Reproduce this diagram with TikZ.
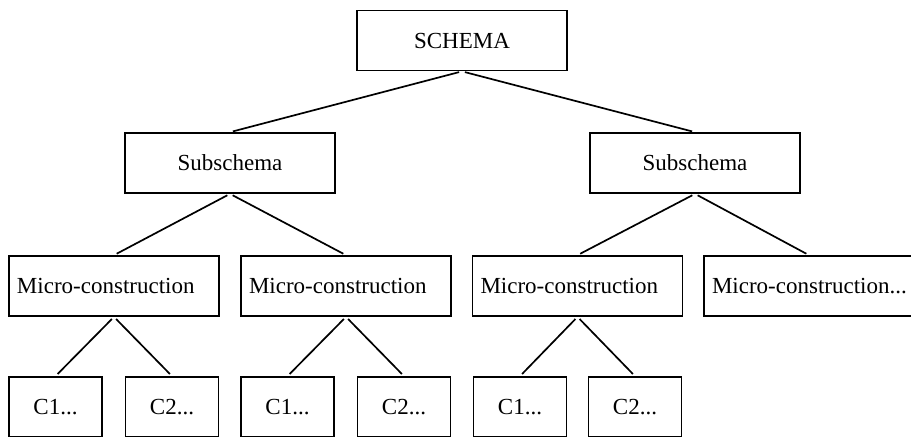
\documentclass[tikz,border=0pt]{standalone}
\usepackage{fontspec}
\setmainfont{Liberation Serif}
\begin{document}
\begin{tikzpicture}[x=0.5pt, y=-0.5pt, line width=0.85pt,
  box/.style={draw, rectangle, inner sep=0pt, minimum width=105pt, minimum height=30pt, font=\fontsize{11.5}{14}\selectfont},
  micro/.style={box, inner xsep=4pt, text width=97pt, align=left},
  leaf/.style={box, minimum width=46.5pt},
  link/.style={shorten >=1.5pt, shorten <=1.5pt}]
\useasboundingbox (0,0) rectangle (911,436);
\node (schema) at (462,40.5) [box] {SCHEMA};
\node (subL) at (230,163) [box] {Subschema};
\node (subR) at (695,163) [box] {Subschema};
\node (m1) at (114,286) [micro] {Micro-construction};
\node (m2) at (346,286) [micro] {Micro-construction};
\node (m3) at (577.5,286) [micro] {Micro-construction};
\node (m4) at (809,286) [micro] {\mbox{Micro-construction...}};
\node (c11) at (55.5,407) [leaf] {C1...};
\node (c12) at (172,407) [leaf] {C2...};
\node (c21) at (287.5,407) [leaf] {C1...};
\node (c22) at (404,407) [leaf] {C2...};
\node (c31) at (520,407) [leaf] {C1...};
\node (c32) at (635,407) [leaf] {C2...};
\draw[link] (schema.south) -- (subL.north);
\draw[link] (schema.south) -- (subR.north);
\draw[link] (subL.south) -- (m1.north);
\draw[link] (subL.south) -- (m2.north);
\draw[link] (subR.south) -- (m3.north);
\draw[link] (subR.south) -- (m4.north);
\draw[link] (m1.south) -- (c11.north);
\draw[link] (m1.south) -- (c12.north);
\draw[link] (m2.south) -- (c21.north);
\draw[link] (m2.south) -- (c22.north);
\draw[link] (m3.south) -- (c31.north);
\draw[link] (m3.south) -- (c32.north);
\end{tikzpicture}
\end{document}
